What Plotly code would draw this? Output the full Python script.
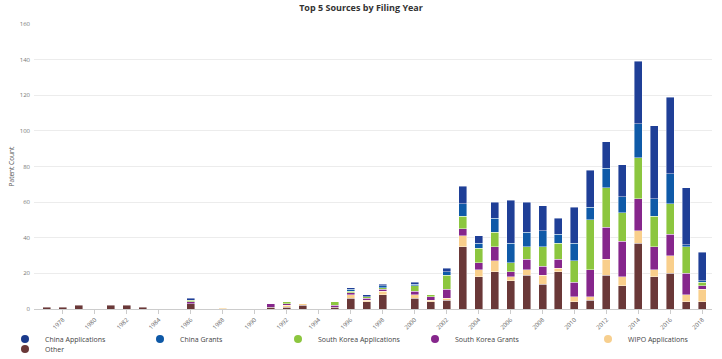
import plotly.graph_objects as go

years = [1977, 1978, 1979, 1981, 1982, 1983, 1986, 1988, 1991, 1992, 1993, 1995, 1996, 1997, 1998,
         2000, 2001, 2002, 2003, 2004, 2005, 2006, 2007, 2008, 2009, 2010, 2011, 2012, 2013, 2014,
         2015, 2016, 2017, 2018]

other = [1, 1, 2, 2, 2, 1, 3, 0, 1, 1, 2, 1, 6, 4, 8,
         6, 4, 5, 35, 18, 21, 16, 19, 14, 21, 4, 5, 19, 13, 37, 18, 20, 4, 4]
wipo_apps = [0, 0, 0, 0, 0, 0, 0, 0.5, 0, 1, 1, 0, 2, 1, 2,
             2, 1, 1, 6, 4, 6, 2, 3, 5, 2, 3, 2, 9, 5, 7, 4, 10, 4, 7]
sk_grants = [0, 0, 0, 0, 0, 0, 1, 0, 2, 1, 0, 1, 1, 1, 1,
             2, 2, 5, 4, 4, 8, 3, 6, 5, 5, 8, 15, 18, 20, 18, 13, 12, 12, 2]
sk_apps = [0, 0, 0, 0, 0, 0, 1, 0, 0, 1, 0, 2, 1, 1, 1,
           3, 1, 8, 7, 8, 8, 5, 7, 11, 9, 12, 28, 22, 16, 23, 17, 17, 15, 2]
cn_grants = [0, 0, 0, 0, 0, 0, 0, 0, 0, 0, 0, 0, 1, 0, 1,
             1, 0, 2, 7, 3, 8, 11, 8, 9, 5, 10, 7, 11, 9, 19, 10, 17, 1, 1]
cn_apps = [0, 0, 0, 0, 0, 0, 1, 0, 0, 0, 0, 0, 1, 1, 1,
           1, 0, 2, 10, 4, 9, 24, 17, 14, 9, 20, 21, 15, 18, 35, 41, 43, 32, 16]

series_names = ["China Applications", "China Grants", "South Korea Applications",
                "South Korea Grants", "WIPO Applications", "Other"]
series_values = [cn_apps, cn_grants, sk_apps, sk_grants, wipo_apps, other]
series_colors = ["#1f3f97", "#0f5aa8", "#8cc63f", "#86268c", "#f9cf8c", "#6a3838"]
legend_dot_colors = ["#1b3a8c", "#0d58a6", "#8cc63f", "#86268c", "#f7cf8e", "#6a3838"]

fig = go.Figure()

# stacked bars, bottom series first
for name, vals, col in reversed(list(zip(series_names, series_values, series_colors))):
    fig.add_trace(go.Bar(
        x=years, y=[v if v else None for v in vals], name=name,
        marker=dict(color=col, line=dict(color="rgba(255,255,255,0.7)", width=0.6)),
        width=0.5, showlegend=False,
        hovertemplate="%{x}: %{y}<extra>" + name + "</extra>",
    ))

# legend entries (circle markers), each in its own legend box
legend_ids = ["legend", "legend2", "legend3", "legend4", "legend5", "legend6"]
for name, col, lid in zip(series_names, legend_dot_colors, legend_ids):
    fig.add_trace(go.Scatter(
        x=[None], y=[None], mode="markers", name=name, legend=lid,
        marker=dict(color=col, size=8, symbol="circle"),
    ))

W, H = 722, 359
L, R, T, B = 34, 10, 24, 50
pw = W - L - R
ph = H - T - B

def px_x(px):
    return (px - L) / pw

def px_y(py):
    return (H - B - py) / ph

legend_font = dict(family="Open Sans", size=7, color="#444444")
legend_px = [(30, 339), (165, 339), (303, 339), (440, 339), (613, 339), (30, 349)]
legend_layouts = {}
for lid, (dx, dy) in zip(legend_ids, legend_px):
    legend_layouts[lid] = dict(
        x=px_x(dx - 25), y=px_y(dy), xanchor="left", yanchor="middle",
        orientation="h", font=legend_font, bgcolor="rgba(0,0,0,0)",
        itemsizing="trace", tracegroupgap=0, itemclick=False, itemdoubleclick=False,
    )

fig.update_layout(
    width=W, height=H,
    margin=dict(l=L, r=R, t=T, b=B, autoexpand=False),
    paper_bgcolor="white", plot_bgcolor="white",
    barmode="stack", bargap=0.4,
    font=dict(family="Open Sans", color="#555555"),
    title=dict(text="Top 5 Sources by Filing Year", x=0.5, xanchor="center",
               y=1 - 8 / H, yanchor="middle", yref="container",
               font=dict(family="Open Sans", size=9, color="#333333", weight="bold")),
    xaxis=dict(
        type="linear", range=[1976.2, 2018.6], tick0=1978, dtick=2,
        tickangle=-45, tickfont=dict(size=6, color="#666666"),
        ticks="outside", ticklen=4, tickcolor="#cccccc",
        showgrid=False, showline=True, linecolor="#cccccc", linewidth=1,
        zeroline=False, fixedrange=True,
    ),
    yaxis=dict(
        range=[0, 160], dtick=20, tickfont=dict(size=6, color="#777777"),
        gridcolor="#ececec", gridwidth=1, zeroline=False, showline=False,
        title=dict(text="Patent Count", font=dict(size=6.5, color="#555555"), standoff=4),
        ticklabelstandoff=3, fixedrange=True,
    ),
    **legend_layouts,
)

fig.write_html(
    "out.html",
    config={"displayModeBar": False, "responsive": False},
    post_script="document.body.style.margin='0';document.body.style.overflow='hidden';",
)
